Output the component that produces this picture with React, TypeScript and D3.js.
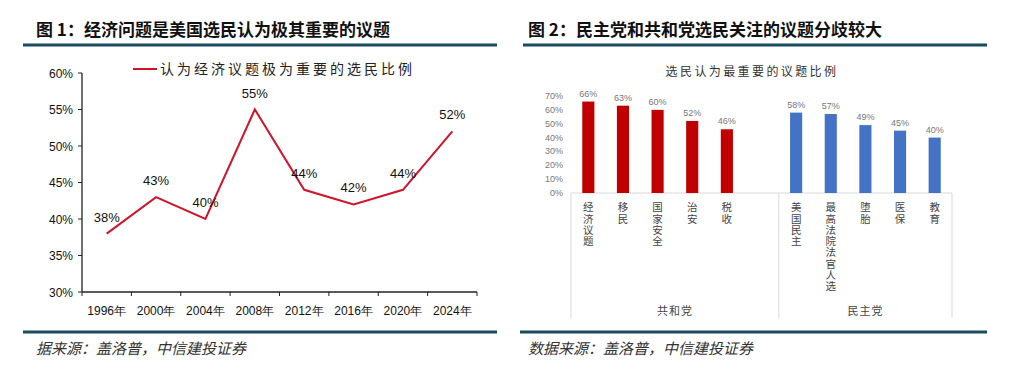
import React from "react";
import * as d3 from "d3";

const years = ["1996年", "2000年", "2004年", "2008年", "2012年", "2016年", "2020年", "2024年"];
const econShare = [0.38, 0.43, 0.40, 0.55, 0.44, 0.42, 0.44, 0.52];
const leftTicks = [0.30, 0.35, 0.40, 0.45, 0.50, 0.55, 0.60];

const repIssues = ["经济议题", "移民", "国家安全", "治安", "税收"];
const repValues = [0.66, 0.63, 0.60, 0.52, 0.46];
const demIssues = ["美国民主", "最高法院法官人选", "堕胎", "医保", "教育"];
const demValues = [0.58, 0.57, 0.49, 0.45, 0.40];
const rightTicks = [0, 0.1, 0.2, 0.3, 0.4, 0.5, 0.6, 0.7];

const CJK = "'Noto Sans CJK SC', 'Noto Sans', sans-serif";
const LAT = "'Liberation Sans', Arial, sans-serif";
const RULE = "#1B4B5F";

function LeftChart() {
  const x = d3.scaleBand<string>().domain(years).range([82, 477]);
  const y = d3.scaleLinear().domain([0.3, 0.6]).range([292, 73]);
  const pct = d3.format(".0%");
  const line = d3
    .line<number>()
    .x((_, i) => (x(years[i]) as number) + x.bandwidth() / 2)
    .y((d) => y(d));
  const bounds = d3.range(years.length + 1).map((i) => 82 + i * x.step());
  return (
    <g>
      <text x={36} y={36} fontFamily={CJK} fontWeight={700} fontSize={17} fill="#111">
        图 1：经济问题是美国选民认为极其重要的议题
      </text>
      <line x1={23} x2={497} y1={45} y2={45} stroke={RULE} strokeWidth={3} />
      {/* legend */}
      <line x1={133} x2={157} y1={69} y2={69} stroke="#D0142C" strokeWidth={2} />
      <text x={160} y={74} fontFamily={CJK} fontSize={14} letterSpacing={3} fill="#222">
        认为经济议题极为重要的选民比例
      </text>
      {/* y axis */}
      <line x1={82} x2={82} y1={73} y2={292} stroke="#222" strokeWidth={1.3} />
      {leftTicks.map((t) => (
        <g key={t}>
          <line x1={78} x2={82} y1={y(t)} y2={y(t)} stroke="#222" />
          <text x={73} y={y(t) + 4.5} textAnchor="end" fontFamily={LAT} fontSize={12} fill="#111">
            {pct(t)}
          </text>
        </g>
      ))}
      {/* x axis */}
      <line x1={82} x2={477} y1={292} y2={292} stroke="#222" strokeWidth={1.3} />
      {bounds.map((b, i) => (
        <line key={i} x1={b} x2={b} y1={292} y2={296} stroke="#222" />
      ))}
      {years.map((yr) => (
        <text
          key={yr}
          x={(x(yr) as number) + x.bandwidth() / 2}
          y={315}
          textAnchor="middle"
          fontFamily={LAT}
          fontSize={12}
          fill="#111"
        >
          {yr}
        </text>
      ))}
      <path d={line(econShare) as string} fill="none" stroke="#D0142C" strokeWidth={2} />
      {econShare.map((v, i) => (
        <text
          key={i}
          x={(x(years[i]) as number) + x.bandwidth() / 2}
          y={y(v) - 12}
          textAnchor="middle"
          fontFamily={LAT}
          fontSize={13}
          fill="#111"
        >
          {pct(v)}
        </text>
      ))}
      <text x={36} y={354} fontFamily={CJK} fontStyle="italic" fontSize={15} fill="#333">
        据来源：盖洛普，中信建投证券
      </text>
      <line x1={23} x2={497} y1={332} y2={332} stroke={RULE} strokeWidth={3} />
    </g>
  );
}

function RightChart() {
  const slots = [...repIssues, "", ...demIssues];
  const x = d3
    .scaleBand<number>()
    .domain(d3.range(slots.length))
    .range([571, 952])
    .paddingInner(0.65)
    .paddingOuter(0.325);
  const y = d3.scaleLinear().domain([0, 0.7]).range([193, 96]);
  const pct = d3.format(".0%");
  const bars = [
    ...repValues.map((v, i) => ({ v, slot: i, name: repIssues[i], color: "#C00000" })),
    ...demValues.map((v, i) => ({ v, slot: i + 6, name: demIssues[i], color: "#4472C4" })),
  ];
  const step = x.step();
  const groupBounds = [571, 571 + 6 * step, 952];
  return (
    <g>
      <text x={528} y={36} fontFamily={CJK} fontWeight={700} fontSize={17} fill="#111">
        图 2：民主党和共和党选民关注的议题分歧较大
      </text>
      <line x1={523} x2={987} y1={45} y2={45} stroke={RULE} strokeWidth={3} />
      <text x={752} y={76} textAnchor="middle" fontFamily={CJK} fontSize={12} letterSpacing={2.4} fill="#333">
        选民认为最重要的议题比例
      </text>
      {rightTicks.map((t) => (
        <text key={t} x={563} y={y(t) + 3} textAnchor="end" fontFamily={LAT} fontSize={9} fill="#777">
          {pct(t)}
        </text>
      ))}
      <line x1={571} x2={952} y1={193} y2={193} stroke="#D9D9D9" />
      {groupBounds.map((b, i) => (
        <line key={i} x1={b} x2={b} y1={193} y2={318} stroke="#D9D9D9" />
      ))}
      {bars.map((b) => {
        const cx = (x(b.slot) as number) + x.bandwidth() / 2;
        return (
          <g key={b.slot}>
            <rect x={x(b.slot)} y={y(b.v)} width={x.bandwidth()} height={193 - y(b.v)} fill={b.color} />
            <text x={cx} y={y(b.v) - 5} textAnchor="middle" fontFamily={LAT} fontSize={9} fill="#777">
              {pct(b.v)}
            </text>
            <text
              x={cx}
              y={202}
              fontFamily={CJK}
              fontSize={10.5}
              letterSpacing={0.8}
              fill="#444"
              style={{ writingMode: "vertical-rl" }}
            >
              {b.name}
            </text>
          </g>
        );
      })}
      <text x={(groupBounds[0] + groupBounds[1]) / 2} y={315} textAnchor="middle" fontFamily={CJK} fontSize={11} letterSpacing={1} fill="#444">
        共和党
      </text>
      <text x={(groupBounds[1] + groupBounds[2]) / 2} y={315} textAnchor="middle" fontFamily={CJK} fontSize={11} letterSpacing={1} fill="#444">
        民主党
      </text>
      <text x={528} y={354} fontFamily={CJK} fontStyle="italic" fontSize={15} fill="#333">
        数据来源：盖洛普，中信建投证券
      </text>
      <line x1={520} x2={987} y1={332} y2={332} stroke={RULE} strokeWidth={3} />
    </g>
  );
}

export default function App() {
  return (
    <svg width={1013} height={378} style={{ position: "absolute", left: 0, top: 0, background: "#fff" }}>
      <rect width={1013} height={378} fill="#fff" />
      <LeftChart />
      <RightChart />
    </svg>
  );
}
